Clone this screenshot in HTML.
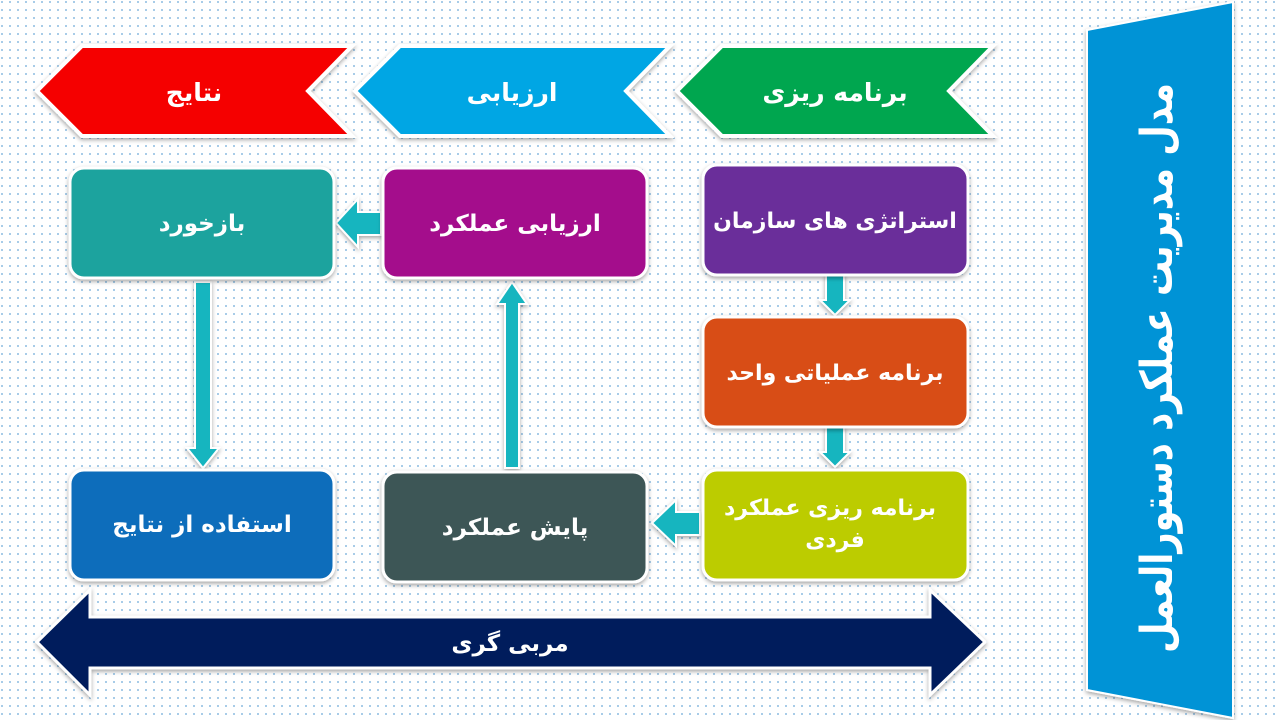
<!DOCTYPE html>
<html><head><meta charset="utf-8"><style>
html,body{margin:0;padding:0;width:1280px;height:720px;overflow:hidden;background:#fff;}
svg{display:block}
text{font-family:"DejaVu Sans","Liberation Sans",sans-serif;font-weight:bold;fill:#fff;}
</style></head><body>
<svg width="1280" height="720" viewBox="0 0 1280 720" xmlns="http://www.w3.org/2000/svg">
<defs>
<pattern id="dots" width="8" height="8" patternUnits="userSpaceOnUse"><rect width="8" height="8" fill="#fff"/><circle cx="2" cy="2" r="0.9" fill="#6aa8d8"/></pattern>
<filter id="sh" x="-10%" y="-10%" width="120%" height="130%"><feDropShadow dx="0" dy="2" stdDeviation="2" flood-color="#000" flood-opacity="0.35"/></filter>
</defs>
<rect width="1280" height="720" fill="url(#dots)"/>

<g stroke="#fff" stroke-width="4" filter="url(#sh)">
<polygon points="37,91 82,46 352,46 308,91 352,136 82,136" fill="#f50000"/>
<polygon points="355,91 400,46 670,46 626,91 670,136 400,136" fill="#00a6e4"/>
<polygon points="677,91 722,46 993,46 949,91 993,136 722,136" fill="#00a64f"/>
</g>
<text x="194" y="101" font-size="25" text-anchor="middle">نتایج</text>
<text x="512" y="101" font-size="25" text-anchor="middle">ارزیابی</text>
<text x="835" y="101" font-size="25" text-anchor="middle">برنامه ریزی</text>

<g fill="#19b5bf" stroke="#fff" stroke-width="2" filter="url(#sh)">
<polygon points="826,275 844,275 844,300 850,300 835,315 820,300 826,300"/>
<polygon points="826,427 844,427 844,452 850,452 835,467 820,452 826,452"/>
<polygon points="700,512 700,535 676,535 676,546 652,523 676,500 676,512"/>
<polygon points="505,468 505,304 497,304 512,282 527,304 519,304 519,468"/>
<polygon points="381,212 381,235 358,235 358,247 336,223 358,199 358,212"/>
<polygon points="195,282 211,282 211,448 219,448 203,468 187,448 195,448"/>
</g>

<g stroke="#fff" stroke-width="3" filter="url(#sh)">
<rect x="70" y="168" width="264" height="110" rx="14" fill="#1aa39e"/>
<rect x="383" y="168" width="264" height="110" rx="14" fill="#a4108c"/>
<rect x="703" y="165" width="265" height="110" rx="14" fill="#6a2d9a"/>
<rect x="703" y="317" width="265" height="110" rx="14" fill="#d84e12"/>
<rect x="703" y="470" width="265" height="110" rx="14" fill="#bccc05"/>
<rect x="383" y="472" width="264" height="110" rx="14" fill="#3e5757"/>
<rect x="70" y="470" width="264" height="110" rx="14" fill="#0a6dbb"/>
</g>
<text x="202" y="231" font-size="23" text-anchor="middle">بازخورد</text>
<text x="515" y="231" font-size="23" text-anchor="middle">ارزیابی عملکرد</text>
<text x="835" y="228" font-size="22" text-anchor="middle">استراتژی های سازمان</text>
<text x="835" y="380" font-size="22" text-anchor="middle">برنامه عملیاتی واحد</text>
<text x="830" y="515" font-size="22" text-anchor="middle">برنامه ریزی عملکرد</text>
<text x="835" y="547" font-size="22" text-anchor="middle">فردی</text>
<text x="515" y="535" font-size="23" text-anchor="middle">پایش عملکرد</text>
<text x="202" y="532" font-size="23" text-anchor="middle">استفاده از نتایج</text>

<polygon points="37,642 90,590 90,617 930,617 930,590 985,642 930,695 930,668 90,668 90,695" fill="#021d5c" stroke="#fff" stroke-width="3" filter="url(#sh)"/>
<text x="510" y="651" font-size="23" text-anchor="middle">مربی گری</text>

<polygon points="1087,30 1233,2 1233,718 1087,690" fill="#0093d6" stroke="#fff" stroke-width="2" filter="url(#sh)"/>
<text transform="translate(1160,368) rotate(-90)" font-size="44" text-anchor="middle" dominant-baseline="middle" textLength="570" lengthAdjust="spacingAndGlyphs">مدل مدیریت عملکرد دستورالعمل</text>
</svg>
</body></html>
